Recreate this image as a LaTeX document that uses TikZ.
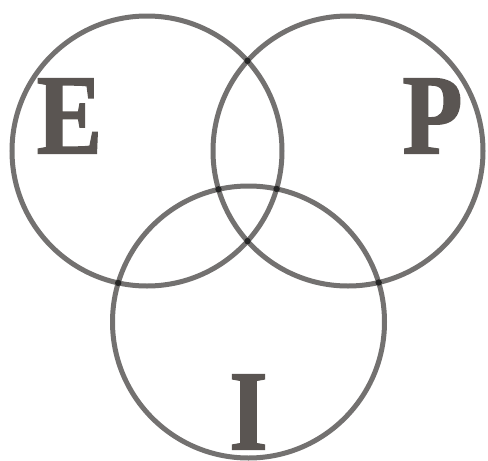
\documentclass[tikz,border=0pt]{standalone}
\usepackage{fontspec}
\setmainfont{Liberation Serif}
\newfontfamily\heavyserif{Liberation Serif Bold}[FakeBold=1.6]
\usetikzlibrary{intersections}
\definecolor{ring}{RGB}{115,113,112}
\definecolor{letter}{RGB}{90,85,82}
\tikzset{
  ring/.style={draw=ring, line width=5pt},
  lab/.style={text=letter, font=\fontsize{114}{114}\selectfont\heavyserif, inner sep=0pt, xscale=0.86},
  crossdot/.style={fill=black!85}
}
\begin{document}
\begin{tikzpicture}[x=1pt,y=-1pt]
\useasboundingbox (0,0) rectangle (488,461);
\fill[white] (0,0) rectangle (488,461);
\draw[ring, name path=cE] (147,151) circle (135);
\draw[ring, name path=cP] (348,151) circle (135);
\draw[ring, name path=cI] (248.5,322) circle (136);
\path[name intersections={of=cE and cP, name=ep}];
\path[name intersections={of=cE and cI, name=ei}];
\path[name intersections={of=cP and cI, name=pi}];
\foreach \p in {ep-1,ep-2,ei-1,ei-2,pi-1,pi-2}{\fill[crossdot] (\p) circle (3.2);}
\node[lab] (E) at (69.5,116) {E};
\node[lab] (P) at (432.5,116) {P};
\node[lab] (I) at (248.5,412) {I};
\end{tikzpicture}
\end{document}
